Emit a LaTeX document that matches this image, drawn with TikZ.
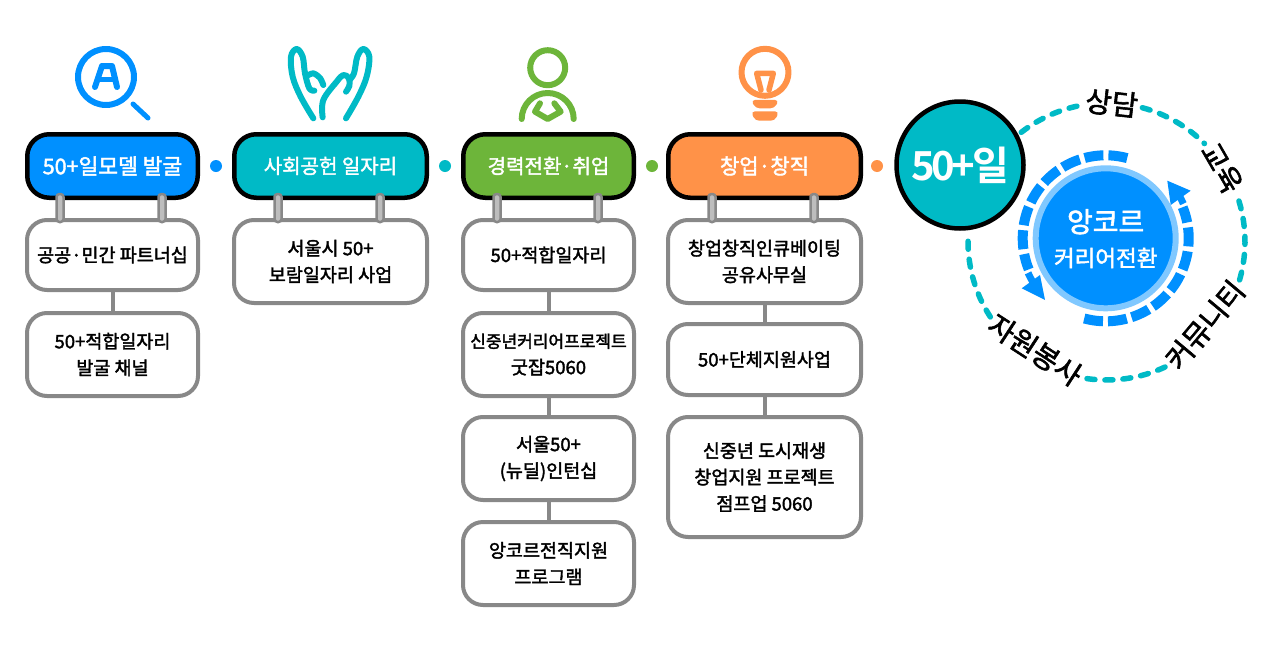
\documentclass[tikz,border=0pt]{standalone}
\usepackage{fontspec}
\setmainfont{Noto Sans CJK KR}[FakeBold=2]
\newfontfamily\boldkr{Noto Sans CJK KR Bold}[LetterSpace=-8]
\usetikzlibrary{arrows.meta,positioning}
\definecolor{workblue}{HTML}{0090FF}
\definecolor{workteal}{HTML}{00BAC6}
\definecolor{workgreen}{HTML}{6DB53A}
\definecolor{workorange}{HTML}{FF9248}
\definecolor{worklight}{HTML}{80C8FF}
\definecolor{workgrey}{HTML}{888888}
\definecolor{clipgrey}{HTML}{BDBDBD}

\begin{document}
\begin{tikzpicture}[
        x=1pt,y=1pt,
        headbox/.style={draw=black,line width=4.5pt,rounded corners=22pt,minimum height=63.5pt,
          text=white,font=\fontsize{20}{24}\selectfont,align=center},
        subbox/.style={draw=workgrey,fill=white,line width=4pt,rounded corners=20pt,
          align=center,font=\fontsize{18.5}{26.5}\selectfont},
        link/.style={draw=workgrey,line width=4pt},
        clipbar/.style={draw=workgrey,fill=clipgrey,line width=2.5pt,rounded corners=3pt,
          minimum width=7pt,minimum height=28pt,inner sep=0pt},
        sepdot/.style={circle,minimum size=12pt,inner sep=0pt},
        iconline/.style={line width=6pt,line cap=round,line join=round},
        track/.style={draw=workteal,line width=5.5pt,line cap=round,dash pattern=on 8pt off 10pt},
        inring/.style={draw=workblue,line width=10pt,dash pattern=on 19pt off 5pt},
        ringlabel/.style={font=\fontsize{28.5}{30}\selectfont,inner sep=0pt}
      ]
        \useasboundingbox (0,0) rectangle (1280,-651);
        \fill[white] (0,0) rectangle (1280,-651);

        \draw[iconline,draw=workblue] (106,-77) circle (28);
        \draw[iconline,draw=workblue,line width=5pt] (133,-104) -- (148,-118);
        \draw[iconline,draw=workblue] (95,-87) -- (102,-66) -- (112,-66) -- (117,-87);
        \draw[iconline,draw=workblue,line width=5pt] (98.5,-79) -- (114,-79);

        \begin{scope}[shift={(280,-40)},x=.3333pt,y=-.3333pt]
          \draw[iconline,draw=workteal] plot[smooth,tension=.6] coordinates
            {(100,235) (62,170) (38,110) (33,50) (50,27) (68,50) (75,100) (88,145) (103,152)};
          \draw[iconline,draw=workteal] plot[smooth] coordinates {(80,108) (100,100) (120,114) (130,135)};
          \draw[iconline,draw=workteal] plot[smooth,tension=.6] coordinates
            {(198,235) (235,170) (260,110) (268,50) (250,27) (232,50) (222,100) (208,120)};
          \draw[iconline,draw=workteal] plot[smooth,tension=.6] coordinates
            {(128,232) (130,180) (170,125) (190,105) (207,115) (208,138) (198,155)};
        \end{scope}

        \draw[iconline,draw=workgreen] (547.7,-67.7) circle (17.5);
        \draw[iconline,draw=workgreen] (521.7,-119) arc (180:0:26);
        \begin{scope}[shift={(510,-40)},x=.3333pt,y=-.3333pt]
          \draw[iconline,draw=workgreen] (90,190) -- (75,215) -- (113,237) -- (152,215) -- (133,190);
        \end{scope}

        \draw[iconline,draw=workorange] (765,-72.3) circle (23.5);
        \begin{scope}[shift={(725,-40)},x=.3333pt,y=-.3333pt]
          \draw[iconline,draw=workorange,line width=5.5pt] (108,150) -- (95,100) -- (145,100) -- (132,150);
          \fill[workorange,rounded corners=4pt] (78,180) -- (162,180) -- (148,205) -- (92,205) -- cycle;
          \fill[workorange,rounded corners=4pt] (78,214) -- (162,214) -- (150,242) -- (90,242) -- cycle;
        \end{scope}

        \node[headbox,fill=workblue,minimum width=170.5pt,font=\fontsize{21.5}{24}\selectfont] (head1) at (112.5,-166) {50+일모델 발굴};
        \node[headbox,fill=workteal,minimum width=192.5pt] (head2) at (330.5,-166) {사회공헌 일자리};
        \node[headbox,fill=workgreen,minimum width=170.5pt] (head3) at (548.5,-166) {경력전환·취업};
        \node[headbox,fill=workorange,minimum width=192.5pt,font=\fontsize{21}{24}\selectfont] (head4) at (764.5,-166) {창업·창직};

        \node[sepdot,fill=workblue] (dot1) at (216,-166) {};
        \node[sepdot,fill=workteal] (dot2) at (445,-166) {};
        \node[sepdot,fill=workgreen] (dot3) at (652,-166) {};
        \node[sepdot,fill=workorange] (dot4) at (877,-166) {};

        \node[subbox,minimum width=171pt,minimum height=70pt] (part1) at (112.5,-255) {공공·민간 파트너십};
        \node[subbox,minimum width=171pt,minimum height=83pt] (part2) at (112.5,-354.5) {50+적합일자리\\발굴 채널};
        \node[subbox,minimum width=193pt,minimum height=83pt] (pub1) at (330.5,-261.5) {서울시 50+\\보람일자리 사업};
        \node[subbox,minimum width=171pt,minimum height=70pt] (job1) at (548.5,-255) {50+적합일자리};
        \node[subbox,minimum width=171pt,minimum height=83pt] (job2) at (548.5,-354.5) {{\fontsize{17}{26.5}\selectfont 신중년커리어프로젝트}\\굿잡5060};
        \node[subbox,minimum width=171pt,minimum height=83pt] (job3) at (548.5,-458.5) {서울50+\\(뉴딜)인턴십};
        \node[subbox,minimum width=171pt,minimum height=83pt] (job4) at (548.5,-563.5) {앙코르전직지원\\프로그램};
        \node[subbox,minimum width=193pt,minimum height=83pt] (biz1) at (764.5,-261.5) {창업창직인큐베이팅\\공유사무실};
        \node[subbox,minimum width=193pt,minimum height=71pt] (biz2) at (764.5,-359.5) {50+단체지원사업};
        \node[subbox,minimum width=193pt,minimum height=120pt] (biz3) at (764.5,-477) {신중년 도시재생\\창업지원 프로젝트\\점프업 5060};

        \draw[link] (part1) -- (part2);
        \draw[link] (job1) -- (job2);
        \draw[link] (job2) -- (job3);
        \draw[link] (job3) -- (job4);
        \draw[link] (biz1) -- (biz2);
        \draw[link] (biz2) -- (biz3);

        \foreach \clipx in {60,162,278,380,497,598,712,814}
          \node[clipbar] (clip\clipx) at (\clipx,-208) {};

        \coordinate (outer) at (1106.5,-241.5);
        \coordinate (inner) at (1105.7,-238.3);
        \draw[track] ([shift={(128:138.5)}]outer) arc (128:102:138.5);
        \draw[track] ([shift={(75:138.5)}]outer) arc (75:45:138.5);
        \draw[track] ([shift={(17:138.5)}]outer) arc (17:-18:138.5);
        \draw[track] ([shift={(-65:138.5)}]outer) arc (-65:-100:138.5);
        \draw[track] ([shift={(-147:138.5)}]outer) arc (-147:-183:138.5);

        \node[circle,draw=black,fill=workteal,line width=4.5pt,minimum size=127pt,inner sep=0pt,
          text=white,font=\boldkr\fontsize{40}{44}\selectfont] (main) at (960,-165) {50+일};

        \node[ringlabel,rotate=-6] (talk) at (1111.7,-103) {상담};
        \node[ringlabel,rotate=-60] (edu) at (1221.7,-168) {교육};
        \node[ringlabel,rotate=50] (comm) at (1205,-325) {커뮤니티};
        \node[ringlabel,rotate=-33] (vol) at (1035,-350) {자원봉사};

        \draw[inring] ([shift={(75:83)}]inner) arc (75:202:83);
        \draw[inring] ([shift={(255:83)}]inner) arc (255:382:83);
        \draw[draw=workblue,line width=7pt] ([shift={(204:85)}]inner) arc (204:211:85);
        \draw[draw=workblue,line width=7pt] ([shift={(24:85)}]inner) arc (24:30:85);

        \node[circle,draw=worklight,fill=workblue,line width=6pt,minimum size=140pt,inner sep=0pt] (core) at (inner) {};
        \fill[workblue] (1021.7,-288.3) -- (1045,-300) -- (1040,-275) -- cycle;
        \fill[workblue] (1167.3,-180.7) -- (1190.7,-190.7) -- (1170.7,-205) -- cycle;
        \node[text=white,font=\fontsize{28}{30}\selectfont,inner sep=0pt] (coretop) at (1105.7,-221.7) {앙코르};
        \node[text=white,font=\fontsize{22.5}{25}\selectfont,inner sep=0pt] (corelow) at (1105.7,-258) {커리어전환};
      \end{tikzpicture}
\end{document}
